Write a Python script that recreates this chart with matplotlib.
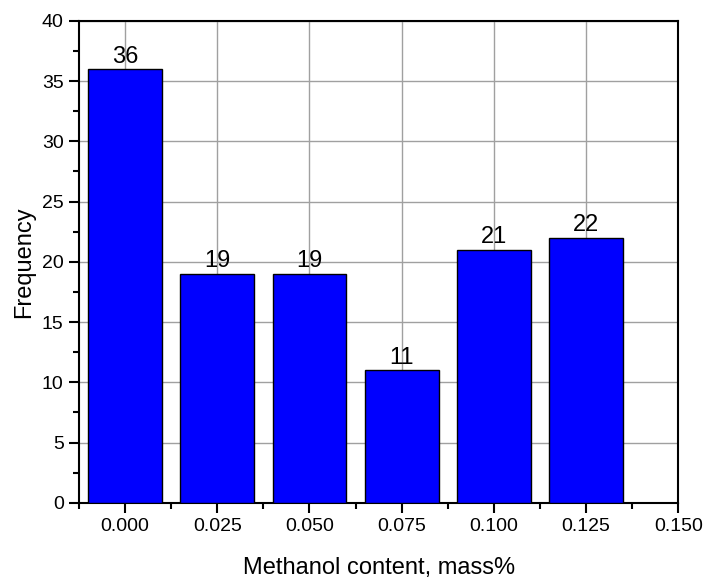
import matplotlib.pyplot as plt
from matplotlib.ticker import MultipleLocator
import numpy as np

plt.rcParams['font.family'] = ['Liberation Sans', 'DejaVu Sans']

# methanol content bins and counts
content = [0.000, 0.025, 0.050, 0.075, 0.100, 0.125]
frequency = [36, 19, 19, 11, 21, 22]

fig = plt.figure(figsize=(7.05, 5.78), dpi=100)
ax = fig.add_axes([0.112, 0.130, 0.850, 0.834])

bars = ax.bar(content, frequency, width=0.02, color='#0000ff',
              edgecolor='black', linewidth=1, zorder=3)
for b, v in zip(bars, frequency):
    ax.annotate(str(v), (b.get_x() + b.get_width() / 2, v),
                xytext=(0, 1), textcoords='offset points',
                ha='center', va='bottom', fontsize=17, zorder=4)

ax.set_xlim(-0.0125, 0.15)
ax.set_ylim(0, 40)
ax.xaxis.set_major_locator(MultipleLocator(0.025))
ax.xaxis.set_minor_locator(MultipleLocator(0.0125))
ax.yaxis.set_major_locator(MultipleLocator(5))
ax.yaxis.set_minor_locator(MultipleLocator(2.5))
ax.xaxis.set_major_formatter(lambda x, pos: f'{x:.3f}')

ax.grid(True, which='major', color='#a0a0a0', linewidth=1, zorder=0)
ax.set_axisbelow(True)

for s in ax.spines.values():
    s.set_linewidth(1.5)
ax.tick_params(which='major', direction='out', length=7, width=1.5,
               labelsize=14, pad=4)
ax.tick_params(which='minor', direction='out', length=4, width=1.5)
ax.tick_params(top=False, right=False, which='both')

ax.set_xlabel('Methanol content, mass%', fontsize=17, labelpad=16)
ax.set_ylabel('Frequency', fontsize=17, labelpad=5)

fig.savefig('out.png', dpi=100)
